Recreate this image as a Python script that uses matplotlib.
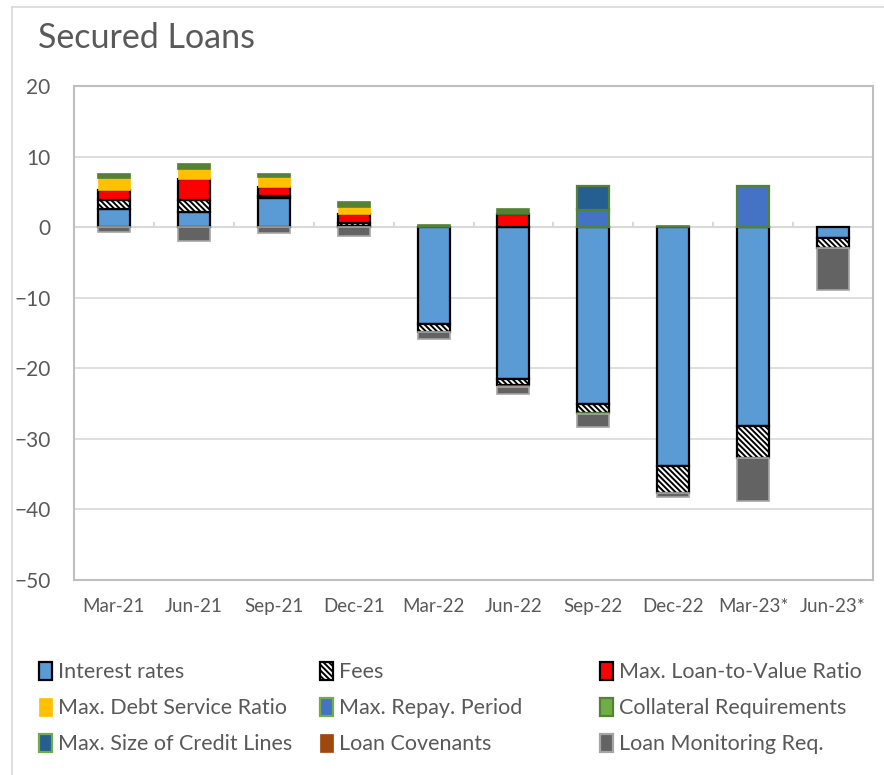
import matplotlib
matplotlib.use("Agg")
import matplotlib.pyplot as plt
from matplotlib.patches import Patch
from matplotlib.lines import Line2D
import numpy as np

categories = ["Mar-21", "Jun-21", "Sep-21", "Dec-21", "Mar-22", "Jun-22",
              "Sep-22", "Dec-22", "Mar-23*", "Jun-23*"]

interest_rates = [2.6, 2.2, 4.1, 0.1, -13.7, -21.5, -25.0, -33.8, -28.2, -1.5]
fees = [1.2, 1.6, 0.3, 0.5, -1.2, -0.9, -1.3, -3.9, -4.5, -1.4]
max_ltv = [1.4, 3.0, 1.3, 1.2, 0.0, 1.8, 0.0, 0.0, 0.0, 0.0]
max_dsr = [1.7, 1.4, 1.4, 1.1, 0.0, 0.0, 0.0, 0.0, 0.0, 0.0]
max_repay = [0.0, 0.0, 0.0, 0.0, 0.0, 0.0, 2.5, 0.0, 5.9, 0.0]
collateral = [0.6, 0.7, 0.5, 0.7, 0.3, 0.8, -0.2, 0.2, 0.0, 0.0]
credit_lines = [0.0, 0.0, 0.0, 0.0, 0.0, 0.0, 3.4, 0.0, 0.0, 0.0]
covenants = [0.0, 0.0, 0.0, 0.0, 0.0, -0.25, 0.0, 0.0, 0.0, 0.0]
monitoring = [-0.7, -1.9, -0.9, -1.2, -0.9, -1.05, -1.8, -0.6, -6.1, -6.0]

series_names = ["Interest rates", "Fees", "Max. Loan-to-Value Ratio",
                "Max. Debt Service Ratio", "Max. Repay. Period",
                "Collateral Requirements", "Max. Size of Credit Lines",
                "Loan Covenants", "Loan Monitoring Req."]
series_values = [interest_rates, fees, max_ltv, max_dsr, max_repay,
                 collateral, credit_lines, covenants, monitoring]

HATCH = "\\\\\\\\\\\\"
styles = [
    dict(facecolor="#5B9BD5", edgecolor="black", linewidth=1.6),
    dict(facecolor="white", edgecolor="black", linewidth=1.6, hatch=HATCH),
    dict(facecolor="#FF0000", edgecolor="black", linewidth=1.6),
    dict(facecolor="#FFC000", edgecolor="#FFC000", linewidth=0.5),
    dict(facecolor="#4472C4", edgecolor="#548235", linewidth=1.6),
    dict(facecolor="#548235", edgecolor="#548235", linewidth=1.2),
    dict(facecolor="#255E91", edgecolor="#548235", linewidth=1.6),
    dict(facecolor="#9E480E", edgecolor="#9E480E", linewidth=0.5),
    dict(facecolor="#636363", edgecolor="#A5A5A5", linewidth=1.2),
]
legend_styles = [
    dict(facecolor="#5B9BD5", edgecolor="black", linewidth=1.6),
    dict(facecolor="white", edgecolor="black", linewidth=1.6, hatch=HATCH),
    dict(facecolor="#FF0000", edgecolor="black", linewidth=1.6),
    dict(facecolor="#FFC000", edgecolor="#FFC000", linewidth=0.5),
    dict(facecolor="#4472C4", edgecolor="#70AD47", linewidth=1.6),
    dict(facecolor="#70AD47", edgecolor="#548235", linewidth=1.6),
    dict(facecolor="#255E91", edgecolor="#70AD47", linewidth=1.6),
    dict(facecolor="#9E480E", edgecolor="#9E480E", linewidth=0.5),
    dict(facecolor="#636363", edgecolor="#A5A5A5", linewidth=1.6),
]

plt.rcParams["font.family"] = ["Lato", "DejaVu Sans"]
plt.rcParams["hatch.linewidth"] = 1.4
text_color = "#595959"

fig = plt.figure(figsize=(8.84, 7.75), dpi=100)
ax = fig.add_axes([74 / 884, 1 - 580 / 775, (873 - 74) / 884, (580 - 86) / 775])

x = np.arange(len(categories))
pos_base = np.zeros(len(categories))
neg_base = np.zeros(len(categories))
width = 0.4
for vals, st in zip(series_values, styles):
    v = np.array(vals, dtype=float)
    pos = np.where(v > 0, v, 0)
    neg = np.where(v < 0, v, 0)
    m = pos > 0
    if m.any():
        ax.bar(x[m], pos[m], width, bottom=pos_base[m], zorder=3, **st)
    m = neg < 0
    if m.any():
        ax.bar(x[m], neg[m], width, bottom=neg_base[m], zorder=3, **st)
    pos_base += pos
    neg_base += neg

ax.set_xlim(-0.5, len(categories) - 0.5)
ax.set_ylim(-50, 20)
ax.set_yticks(np.arange(-50, 21, 10))
ax.grid(axis="y", color="#D9D9D9", linewidth=1.2, zorder=0)
ax.axhline(0, color="#D9D9D9", linewidth=1.5, zorder=2)
ax.vlines(np.arange(0.5, len(categories) - 0.5, 1), 0, 0.7,
          color="#D9D9D9", linewidth=1.5, zorder=2)
for s in ax.spines.values():
    s.set_color("#BFBFBF")
    s.set_linewidth(1.5)
ax.set_xticks(x)
ax.set_xticklabels(categories)
ax.tick_params(axis="both", length=0, colors=text_color)
ax.tick_params(axis="y", labelsize=15, pad=17)
ax.tick_params(axis="x", labelsize=13.5, pad=13)

fig.text(38 / 884, 1 - 48 / 775, "Secured Loans", fontsize=24.5,
         color=text_color, va="baseline", ha="left")

# border of chart area (left/top visible)
fig.add_artist(Line2D([12 / 884, 12 / 884], [0, 1 - 7 / 775],
                      transform=fig.transFigure, color="#D9D9D9", linewidth=1.2))
fig.add_artist(Line2D([12 / 884, 1], [1 - 7 / 775, 1 - 7 / 775],
                      transform=fig.transFigure, color="#D9D9D9", linewidth=1.2))

handles = [Patch(label=n, **st) for n, st in zip(series_names, legend_styles)]
col_x = [39, 320, 600]
for c in range(3):
    hs = [handles[c + 3 * r] for r in range(3)]
    fig.legend(handles=hs, loc="upper left",
               bbox_to_anchor=(col_x[c] / 884, 1 - 662 / 775),
               frameon=False, fontsize=15.5, handlelength=0.6,
               handleheight=0.9, handletextpad=0.3, labelspacing=0.72,
               borderaxespad=0, borderpad=0, labelcolor=text_color)

fig.savefig("out.png", dpi=100)
